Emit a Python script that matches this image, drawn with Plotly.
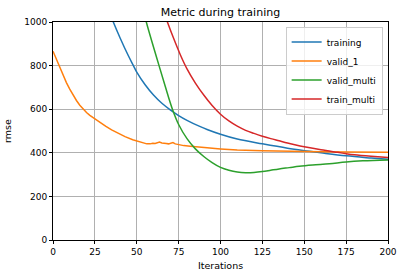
import plotly.graph_objects as go

# ---- data ----
train_x = [33, 36, 40, 45, 48, 50, 55, 60, 65, 70, 75, 80, 87.6, 92, 100, 110, 125, 140, 150, 160, 175, 190, 200]
train_y = [1060, 1000, 928, 845, 800, 770, 712, 665, 627, 597, 571, 549, 521, 507, 485, 463, 441, 421, 410, 400, 386, 376, 370]

valid1_x = [0, 3, 6, 8, 10, 12, 14, 16, 18, 20, 22, 25, 28, 31.6, 35, 39.6, 43, 47.6, 50, 53.6, 56, 58, 59.6, 61, 62.5,
            63.6, 65, 66.5, 67.6, 69, 70.5, 71.6, 73, 75, 78, 82, 87.6, 92, 100, 110, 125, 140, 150, 160, 175, 190, 200]
valid1_y = [866, 810, 757, 722, 692, 665, 640, 618, 600, 585, 572, 555, 540, 521, 505, 486, 474, 460, 455, 444, 441, 441, 444, 443, 447,
            449, 445, 442, 443, 441, 446, 447, 441, 437, 433, 430, 428, 423, 418, 413, 409, 406, 406, 405, 404, 404, 403]

vmulti_x = [54, 55.7, 60, 63.3, 67, 71.3, 75, 80, 85, 90, 95, 100, 105, 110, 115, 120, 125, 130, 135, 141, 147, 155, 165, 175, 185, 200]
vmulti_y = [1050, 1000, 885, 800, 705, 600, 530, 465, 418, 383, 355, 333, 320, 312, 309, 310, 314, 320, 326, 332, 338, 344, 350, 358, 363, 367]

tmulti_x = [66, 68.3, 72, 76, 80, 85, 90, 95, 100, 105, 110, 115, 120, 125, 130, 135, 140, 145, 150, 160, 170, 175, 180, 190, 200]
tmulti_y = [1050, 1000, 925, 850, 785, 720, 665, 617, 577, 546, 522, 503, 489, 476, 465, 455, 445, 436, 428, 414, 402, 396, 391, 384, 378]

x_ticks = [0, 25, 50, 75, 100, 125, 150, 175, 200]
y_ticks = [0, 200, 400, 600, 800, 1000]

FONT = "DejaVu Sans"

fig = go.Figure()
fig.add_trace(go.Scatter(x=train_x, y=train_y, name="training", mode="lines",
                         line=dict(color="#1f77b4", width=1.5, shape="spline", smoothing=1.0)))
fig.add_trace(go.Scatter(x=valid1_x, y=valid1_y, name="valid_1", mode="lines",
                         line=dict(color="#ff7f0e", width=1.5)))
fig.add_trace(go.Scatter(x=vmulti_x, y=vmulti_y, name="valid_multi", mode="lines",
                         line=dict(color="#2ca02c", width=1.5, shape="spline", smoothing=1.0)))
fig.add_trace(go.Scatter(x=tmulti_x, y=tmulti_y, name="train_multi", mode="lines",
                         line=dict(color="#d62728", width=1.5, shape="spline", smoothing=1.0)))

axis_common = dict(showline=True, linecolor="black", linewidth=1, mirror=True,
                   ticks="outside", ticklen=3, tickwidth=1, tickcolor="black",
                   showgrid=True, gridcolor="#b0b0b0", gridwidth=1, zeroline=False,
                   automargin=False,
                   tickfont=dict(family=FONT, size=9, color="black"))

fig.update_layout(
    width=404, height=278,
    margin=dict(l=53, r=16, t=22, b=38),
    paper_bgcolor="white", plot_bgcolor="white",
    font=dict(family=FONT, size=9, color="black"),
    title=dict(text="Metric during training", x=0.5, xref="paper", xanchor="center",
               y=1 - 12 / 278, yref="container", yanchor="middle",
               font=dict(family=FONT, size=11, color="black")),
    xaxis=dict(range=[0, 200], tickvals=x_ticks, ticktext=[str(v) for v in x_ticks],
               title=dict(text="Iterations", font=dict(family=FONT, size=9.5), standoff=6),
               **axis_common),
    yaxis=dict(range=[0, 1000], tickvals=y_ticks, ticktext=[str(v) for v in y_ticks],
               title=dict(text="rmse", font=dict(family=FONT, size=9.5), standoff=10),
               **axis_common),
    legend=dict(x=0.984, y=0.979, xanchor="right", yanchor="top",
                bgcolor="rgba(255,255,255,0.8)", bordercolor="#cccccc", borderwidth=1,
                font=dict(family=FONT, size=9, color="black"),
                tracegroupgap=0, itemwidth=30),
    showlegend=True,
)

fig.write_html("out.html", config={"displayModeBar": False},
               post_script="document.body.style.margin='0';document.body.style.overflow='hidden';")
